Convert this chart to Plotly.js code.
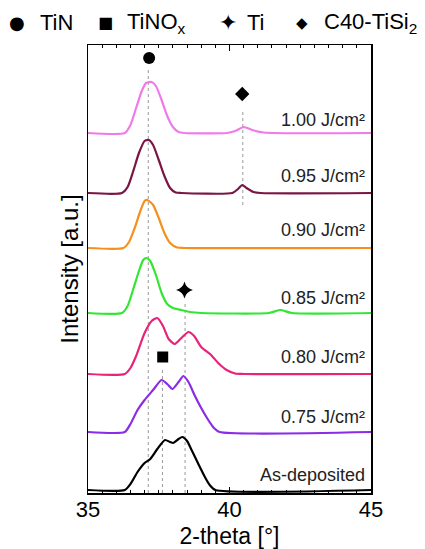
<!DOCTYPE html>
<html><head><meta charset="utf-8">
<script src="https://cdn.plot.ly/plotly-3.0.1.min.js"></script>
<style>html,body{margin:0;padding:0;background:#fff}#plot{width:425px;height:549px}</style>
</head><body><div id="plot"></div>
<script>
// ---- data ----
const sampleNames = ["As-deposited", "0.75 J/cm²", "0.80 J/cm²", "0.85 J/cm²", "0.90 J/cm²", "0.95 J/cm²", "1.00 J/cm²"];
const sampleColors = ["#000000", "#8a2be6", "#e8237a", "#33e633", "#f5901e", "#7a1545", "#f07ae8"];
const stackOffsets = [3, 61, 119, 180, 245, 300, 360];

const x_asdep = [35, 36.3, 36.5, 36.75, 37.0, 37.2, 37.45, 37.72, 37.9, 38.01, 38.2, 38.33, 38.5, 38.66, 38.9, 39.13, 39.3, 39.5, 45];
const y_asdep = [0, 0, 6, 18, 27, 31, 41, 50, 48, 47, 51, 53, 49, 40, 26, 13, 5, 0, 0];

const x_075 = [35, 36.3, 36.5, 36.75, 37.0, 37.3, 37.6, 37.8, 37.98, 38.2, 38.37, 38.55, 38.78, 39.0, 39.25, 39.45, 39.65, 45];
const y_075 = [0, 0, 8, 22, 32, 42, 52, 48, 43, 50, 56, 50, 36, 24, 12, 4, 0, 0];

const x_080 = [35, 36.3, 36.5, 36.7, 37.0, 37.25, 37.45, 37.65, 37.85, 38.07, 38.3, 38.55, 38.75, 39.0, 39.35, 39.6, 39.9, 40.2, 40.5, 45];
const y_080 = [0, 0, 6, 18, 41, 53, 56, 48, 35, 30, 36, 42, 38, 27, 19, 11, 4, 0.5, 0, 0];

const x_085 = [35, 36.2, 36.4, 36.6, 36.8, 36.95, 37.07, 37.2, 37.4, 37.6, 37.8, 38.0, 38.3, 38.6, 39.0, 41.4, 41.8, 42.2, 45];
const y_085 = [0, 0, 7, 24, 42, 53, 55, 52, 38, 20, 9, 5, 3, 1, 0, 0, 3, 0, 0];

const x_090 = [35, 36.25, 36.45, 36.65, 36.85, 37.0, 37.1, 37.3, 37.5, 37.7, 37.9, 38.15, 38.4, 45];
const y_090 = [0, 0, 6, 20, 37, 47, 48, 43, 30, 15, 5, 0.5, 0, 0];

const x_095 = [35, 36.2, 36.4, 36.6, 36.8, 37.0, 37.15, 37.3, 37.5, 37.7, 37.9, 38.1, 38.3, 40.1, 40.3, 40.45, 40.6, 40.85, 41.1, 45];
const y_095 = [0, 0, 6, 22, 40, 52, 53, 48, 33, 17, 5, 0.5, 0, 0, 4, 8, 5, 1, 0, 0];

const x_100 = [35, 36.3, 36.5, 36.7, 36.9, 37.05, 37.25, 37.4, 37.6, 37.8, 38.0, 38.2, 38.4, 39.9, 40.2, 40.5, 40.8, 41.2, 45];
const y_100 = [0, 0, 8, 25, 42, 50, 51, 47, 33, 17, 6, 1, 0, 0, 2, 6, 3, 0.5, 0];

const sampleX = [x_asdep, x_075, x_080, x_085, x_090, x_095, x_100];
const sampleY = [y_asdep, y_075, y_080, y_085, y_090, y_095, y_100];

// phase reference peaks
const phaseNames = ["TiN", "TiNO<sub>x</sub>", "Ti", "C40-TiSi<sub>2</sub>"];
const phaseSymbols = ["circle", "square", "star-diamond", "diamond"];
const phaseGlyphs = ["●", "■", "✦", "◆"];
const phasePeakX = [37.13, 37.63, 38.43, 40.47];
const markerX = [37.16, 37.64, 38.41, 40.45];
const markerY = [435, 136, 203, 399];
const refLineBottom = [0, 0, 0, 288];
const refLineTop = [426, 123, 190, 383];

// ---- build ----
const FONT = "Liberation Sans, Arial, sans-serif";
const traces = [];
for (let i = 0; i < phasePeakX.length; i++) {
  traces.push({
    x: [phasePeakX[i], phasePeakX[i]], y: [refLineBottom[i], refLineTop[i]],
    mode: "lines", line: {color: "#9a9a9a", width: 1, dash: "dot"},
    hoverinfo: "skip", showlegend: false
  });
}
for (let i = 0; i < sampleNames.length; i++) {
  traces.push({
    x: sampleX[i], y: sampleY[i].map(v => v + stackOffsets[i]),
    mode: "lines", line: {color: sampleColors[i], width: 2.2, shape: "spline", smoothing: 0.6},
    name: sampleNames[i], showlegend: false
  });
}
traces.push({
  x: markerX, y: markerY, mode: "markers",
  marker: {symbol: phaseSymbols, size: [12, 11, 12, 11], color: "#000", opacity: 1, line: {width: 0}},
  showlegend: false, cliponaxis: false
});

const labelY = [18, 76, 136, 195, 263, 317, 373];
const annotations = sampleNames.map((n, i) => ({
  x: 44.85, y: labelY[i], xref: "x", yref: "y", text: n, showarrow: false,
  xanchor: "right", yanchor: "middle", font: {family: FONT, size: 18, color: "#222"}
}));

// legend row at top (pixel helper)
const W = 283, L = 88;
const px = p => (p - L) / W;
const glyphX = [16.7, 105, 228, 301.7];
const textX = [38, 125, 245, 322];
const glyphSize = [18, 16, 22, 15];
for (let i = 0; i < phaseNames.length; i++) {
  annotations.push({x: px(glyphX[i]), y: 1.05, xref: "paper", yref: "paper", text: phaseGlyphs[i],
    showarrow: false, xanchor: "center", yanchor: "middle", font: {family: "DejaVu Sans", size: glyphSize[i], color: "#000"}});
  annotations.push({x: px(textX[i]), y: 1.05, xref: "paper", yref: "paper", text: phaseNames[i],
    showarrow: false, xanchor: "left", yanchor: "middle", font: {family: FONT, size: 22, color: "#000"}});
}

const layout = {
  width: 425, height: 549,
  margin: {l: 88, r: 54, t: 45, b: 56},
  paper_bgcolor: "#fff", plot_bgcolor: "#fff",
  font: {family: FONT, color: "#000"},
  showlegend: false,
  xaxis: {
    range: [35, 45], tickvals: [35, 40, 45], ticktext: ["35", "40", "45"],
    ticks: "inside", ticklen: 6, tickwidth: 1.2, tickcolor: "#000",
    minor: {dtick: 0.5, ticks: "inside", ticklen: 3, tickcolor: "#000", tickwidth: 1},
    showline: true, linecolor: "#000", linewidth: 1.5, mirror: "ticks",
    showgrid: false, zeroline: false, ticklabelstandoff: -4,
    tickfont: {family: FONT, size: 22, color: "#000"},
    title: {text: "2-theta [°]", font: {family: FONT, size: 23, color: "#000"}, standoff: 8},
    automargin: false
  },
  yaxis: {
    range: [0, 448], showticklabels: false, ticks: "",
    showline: true, linecolor: "#000", linewidth: 1.5, mirror: true,
    showgrid: false, zeroline: false,
    title: {text: "Intensity [a.u.]", font: {family: FONT, size: 24, color: "#000"}, standoff: 1},
    automargin: false
  },
  annotations: annotations
};
Plotly.newPlot("plot", traces, layout, {staticPlot: true, displayModeBar: false});
</script></body></html>
